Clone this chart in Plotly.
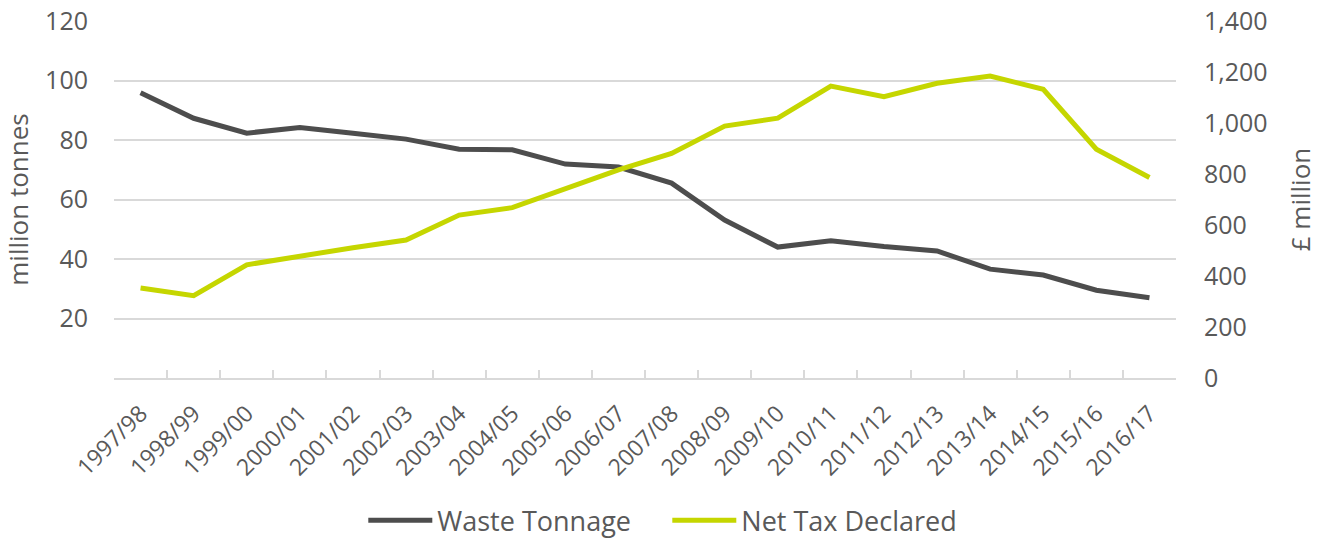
import plotly.graph_objects as go

years = ["1997/98", "1998/99", "1999/00", "2000/01", "2001/02", "2002/03", "2003/04",
         "2004/05", "2005/06", "2006/07", "2007/08", "2008/09", "2009/10", "2010/11",
         "2011/12", "2012/13", "2013/14", "2014/15", "2015/16", "2016/17"]
waste_tonnage = [95.9, 87.3, 82.3, 84.2, 82.3, 80.3, 76.9, 76.7, 71.9, 70.9, 65.5, 53.1,
                 44.0, 46.1, 44.2, 42.7, 36.6, 34.6, 29.5, 27.0]
net_tax = [353, 323, 444, 478, 511, 541, 639, 668, 744, 816, 881, 988, 1019, 1145,
           1103, 1156, 1184, 1132, 897, 786]

left_ticks = [20, 40, 60, 80, 100, 120]
right_ticks = [0, 200, 400, 600, 800, 1000, 1200, 1400]

FONT = "Open Sans"
TXT = "#595959"
GRID = "#d9d9d9"

fig = go.Figure()
fig.add_trace(go.Scatter(x=years, y=waste_tonnage, name="Waste Tonnage", mode="lines",
                         line=dict(color="#4d4d4d", width=5), yaxis="y"))
fig.add_trace(go.Scatter(x=years, y=net_tax, name="Net Tax Declared", mode="lines",
                         line=dict(color="#c5d600", width=5), yaxis="y2"))

# figure a little taller than the 540px window so the legend box never pushes the margins;
# the extra strip at the bottom is blank and falls outside the viewport
fig.update_layout(
    width=1327, height=560,
    margin=dict(l=114, r=151, t=21, b=182),
    paper_bgcolor="white", plot_bgcolor="white",
    font=dict(family=FONT, size=24, color=TXT),
    showlegend=True,
    legend=dict(orientation="h", x=0.521, xanchor="center",
                y=-0.40, yanchor="middle",
                font=dict(size=27, color=TXT), itemwidth=64, traceorder="normal",
                entrywidth=225, entrywidthmode="pixels"),
    xaxis=dict(type="category", range=[-0.5, 19.5], tickangle=-45, automargin=False,
               showgrid=False, showline=True, linecolor=GRID, linewidth=2,
               ticks="inside", tickson="boundaries", ticklen=8, tickcolor=GRID,
               tickwidth=2, tickfont=dict(size=23, color=TXT), ticklabelstandoff=11,
               zeroline=False),
    yaxis=dict(range=[0, 120], tickvals=left_ticks, showgrid=True, gridcolor=GRID,
               gridwidth=2, zeroline=False, showline=False, ticks="", automargin=False,
               tickfont=dict(size=25, color=TXT), ticklabelstandoff=25,
               ticklabeloverflow="allow",
               title=dict(text="million tonnes", font=dict(size=26, color=TXT), standoff=13)),
    yaxis2=dict(range=[0, 1400], tickvals=right_ticks, overlaying="y", side="right",
                showgrid=False, zeroline=False, showline=False, ticks="", automargin=False,
                tickformat=",d", tickfont=dict(size=25, color=TXT), ticklabelstandoff=27,
                ticklabeloverflow="allow",
                title=dict(text="£ million", font=dict(size=26, color=TXT), standoff=25)),
)

fig.write_html(
    "out.html",
    config={"displayModeBar": False},
    post_script="document.body.style.margin='0px';document.body.style.overflow='hidden';",
)
